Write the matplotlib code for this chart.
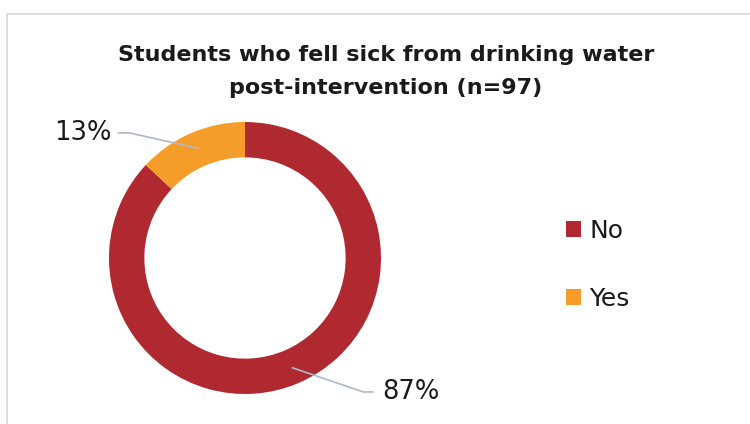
import numpy as np
import matplotlib
matplotlib.use("Agg")
import matplotlib.pyplot as plt
from matplotlib.patches import Rectangle

# data
categories = ["No", "Yes"]
shares = [87, 13]
colors = ["#B02830", "#F59D28"]
title = "Students who fell sick from drinking water\npost-intervention (n=97)"

W, H = 750, 424
fig = plt.figure(figsize=(W / 100, H / 100), dpi=100)

# light chart frame (left and top edges visible)
fig.patches.append(Rectangle((7 / W, -0.1), 1.2, (H - 14) / H + 0.1,
                             transform=fig.transFigure, fill=False,
                             edgecolor="#D9D9D9", linewidth=1.2))

# donut axes: center (245, 258) px from top, radius 136 px
R = 136
half = 160
cx, cy = 245, H - 258
ax = fig.add_axes([(cx - half) / W, (cy - half) / H, 2 * half / W, 2 * half / H])

wedges, _ = ax.pie(shares, colors=colors, startangle=90, counterclock=False,
                   radius=1.0, wedgeprops=dict(width=0.26, edgecolor="none"))
lim = half / R
ax.set_xlim(-lim, lim)
ax.set_ylim(-lim, lim)
ax.set_aspect("equal")
ax.axis("off")

# data labels with leader lines
label_pos = {"No": (1.01, -0.985, "left"), "Yes": (-0.85, 0.92, "right")}
line_col = "#ADB9CA"
for w, cat, val in zip(wedges, categories, shares):
    mid = np.deg2rad((w.theta1 + w.theta2) / 2)
    x0, y0 = 0.88 * np.cos(mid), 0.88 * np.sin(mid)
    tx, ty, ha = label_pos[cat]
    if ha == "left":
        elbow, end = (tx - 0.14, ty), (tx - 0.07, ty)
        txt_x = tx
    else:
        elbow, end = (tx, ty), (tx - 0.08, ty)
        txt_x = tx - 0.13
    ax.plot([x0, elbow[0], end[0]], [y0, elbow[1], end[1]], color=line_col,
            lw=1.2, clip_on=False)
    ax.text(txt_x, ty, f"{val}%", ha=ha, va="center", fontsize=18.5,
            family="DejaVu Sans", color="#1a1a1a", clip_on=False)

fig.text(386 / W, 1 - 71.5 / H, title, ha="center", va="center", fontsize=16,
         fontweight="bold", family="DejaVu Sans", color="#1a1a1a",
         linespacing=1.8)

leg = fig.legend(wedges, categories, loc="center left",
                 bbox_to_anchor=(543 / W, 1 - 265 / H), frameon=False,
                 handlelength=0.6, handleheight=0.6,
                 handletextpad=0.35, labelspacing=1.75,
                 prop={"family": "DejaVu Sans", "size": 18})
for t in leg.get_texts():
    t.set_color("#1a1a1a")

fig.savefig("out.png", dpi=100)
